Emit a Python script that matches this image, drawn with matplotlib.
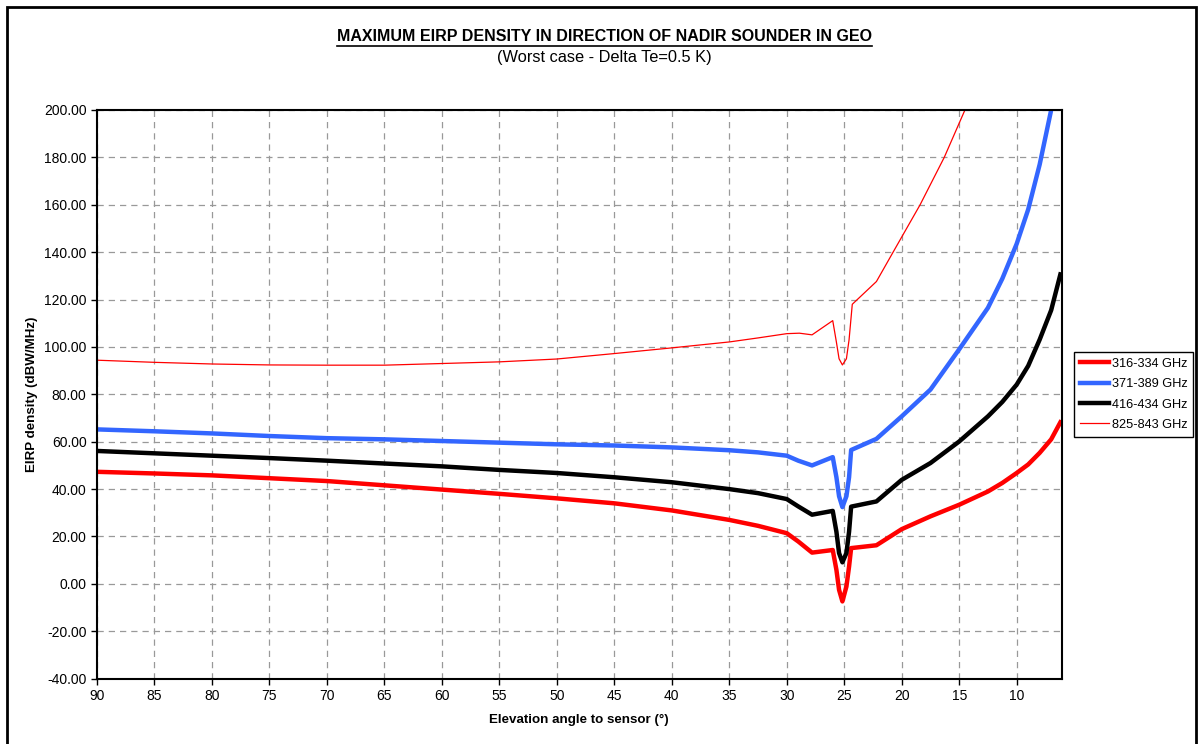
import matplotlib
matplotlib.use("Agg")
from matplotlib import pyplot as plt
from matplotlib.lines import Line2D
from matplotlib.patches import Rectangle
import numpy as np

plt.rcParams['font.family'] = ['Liberation Sans', 'DejaVu Sans']

# elevation angle grid (deg) shared by the three thick curves
angle = [90, 85, 80, 75, 70, 65, 60, 55, 50, 45, 40, 35, 32.5, 30, 29, 27.8,
         26.0, 25.68, 25.45, 25.16, 24.81, 24.58, 24.4, 22.2, 20, 17.5, 15,
         12.5, 11.25, 10, 9, 8, 7.0, 6.2]

eirp_316 = [47.3, 46.6, 45.8, 44.6, 43.4, 41.6, 39.8, 38.0, 36.1, 34.0, 31.0,
            27.0, 24.5, 21.4, 17.9, 13.2, 14.3, 5.9, -2.5, -7.4, -1.1, 7.3,
            15.1, 16.3, 23.1, 28.5, 33.4, 39.0, 42.6, 46.8, 50.4, 55.3, 61.0,
            68.2]
eirp_371 = [65.2, 64.4, 63.5, 62.4, 61.5, 61.0, 60.3, 59.6, 58.9, 58.4, 57.6,
            56.4, 55.5, 54.1, 52.0, 50.0, 53.5, 45.0, 37.0, 32.4, 37.0, 45.0,
            56.5, 61.2, 70.7, 82.0, 99.0, 116.5, 128.8, 143.5, 158.0, 177.0,
            200.0, 220.0]
eirp_416 = [56.1, 55.1, 54.1, 53.1, 52.0, 50.8, 49.6, 48.1, 46.8, 45.0, 42.9,
            40.0, 38.3, 35.8, 32.7, 29.2, 30.8, 22.0, 13.0, 9.1, 13.0, 22.0,
            32.6, 34.8, 43.9, 51.0, 60.1, 70.7, 76.8, 84.1, 92.0, 103.1, 115.5,
            130.6]

# thin 825-843 GHz curve leaves the plot at the top, own angle grid
angle_825 = [90, 85, 80, 75, 70, 65, 60, 55, 50, 45, 40, 35, 32.5, 30, 28.9,
             27.8, 26.0, 25.68, 25.45, 25.16, 24.81, 24.58, 24.3, 22.2, 20.75,
             18.4, 16.3, 14.5, 13.5]
eirp_825 = [94.4, 93.5, 92.8, 92.4, 92.3, 92.3, 93.0, 93.7, 94.9, 97.2, 99.6,
            102.1, 103.8, 105.6, 105.8, 105.1, 111.1, 102.0, 95.0, 92.4, 95.0,
            103.0, 118.0, 127.6, 140.0, 160.0, 180.0, 200.0, 212.0]

xticks = list(range(90, 9, -5))
yticks = list(range(-40, 201, 20))

fig = plt.figure(figsize=(12, 7.44), dpi=100)
ax = fig.add_axes([0.0808, 0.0878, 0.8038, 0.7644])

ax.plot(angle, eirp_316, color='#ff0000', lw=3.2, label='316-334 GHz')
ax.plot(angle, eirp_371, color='#3366ff', lw=3.2, label='371-389 GHz')
ax.plot(angle, eirp_416, color='#000000', lw=3.2, label='416-434 GHz')
ax.plot(angle_825, eirp_825, color='#ff0000', lw=0.9, label='825-843 GHz')

ax.set_xlim(90, 6.1)
ax.set_ylim(-40, 200)
ax.set_xticks(xticks)
ax.set_yticks(yticks)
ax.set_yticklabels(['%.2f' % v for v in yticks])
ax.tick_params(labelsize=10, length=4, width=1, direction='out', color='black')
ax.grid(True, color='#999999', ls=(0, (5, 4)), lw=0.9)
for s in ax.spines.values():
    s.set_linewidth(1.5)

ax.set_xlabel('Elevation angle to sensor (°)', fontsize=9.6, fontweight='bold', labelpad=8)
ax.set_ylabel('EIRP density (dBW/MHz)', fontsize=9.6, fontweight='bold', labelpad=4)

title = fig.text(0.504, 0.951, 'MAXIMUM EIRP DENSITY IN DIRECTION OF NADIR SOUNDER IN GEO',
                 ha='center', va='center', fontsize=11.5, fontweight='bold')
fig.text(0.504, 0.923, '(Worst case - Delta Te=0.5 K)', ha='center', va='center', fontsize=11.8)

leg = ax.legend(loc='upper left', bbox_to_anchor=(0.895, 0.527),
                bbox_transform=fig.transFigure, fontsize=9.2, frameon=True,
                fancybox=False, edgecolor='black', framealpha=1,
                handlelength=2.3, handletextpad=0.2, borderpad=0.45,
                labelspacing=0.66, borderaxespad=0)
leg.get_frame().set_linewidth(1.0)

# underline the title
fig.canvas.draw()
bb = title.get_window_extent().transformed(fig.transFigure.inverted())
fig.add_artist(Line2D([bb.x0, bb.x1], [bb.y0 - 0.003, bb.y0 - 0.003],
                      color='black', lw=1.2, transform=fig.transFigure))

# outer frame of the chart
fig.add_artist(Rectangle((0.006, -0.02), 0.991, 1.01, fill=False,
                         edgecolor='black', lw=2, transform=fig.transFigure))

fig.savefig('out.png', dpi=100)
